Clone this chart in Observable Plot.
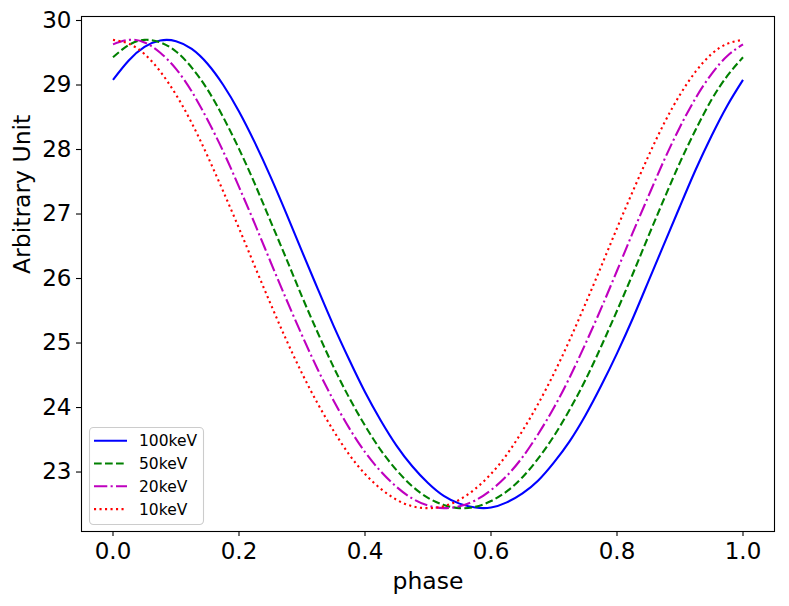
<!DOCTYPE html>
<html>
<head>
<meta charset="utf-8">
<script src="https://cdn.jsdelivr.net/npm/d3@7"></script>
<script src="https://cdn.jsdelivr.net/npm/@observablehq/plot@0.6"></script>
<style>
  html, body { margin: 0; padding: 0; background: #ffffff; }
  #chart { width: 789px; height: 606px; }
</style>
</head>
<body>
<div id="chart"></div>
<script>
// ---- data ----
const phase = [0.000, 0.025, 0.050, 0.075, 0.100, 0.125, 0.150, 0.175, 0.200, 0.225,
               0.250, 0.275, 0.300, 0.325, 0.350, 0.375, 0.400, 0.425, 0.450, 0.475,
               0.500, 0.525, 0.550, 0.575, 0.600, 0.625, 0.650, 0.675, 0.700, 0.725,
               0.750, 0.775, 0.800, 0.825, 0.850, 0.875, 0.900, 0.925, 0.950, 0.975, 1.000];
const seriesNames = ["100keV", "50keV", "20keV", "10keV"];
const kev100 = [29.08, 29.38, 29.59, 29.69, 29.68, 29.56, 29.33, 29.00, 28.59, 28.11,
                27.58, 27.01, 26.42, 25.84, 25.27, 24.74, 24.24, 23.80, 23.41, 23.09,
                22.83, 22.63, 22.51, 22.45, 22.45, 22.53, 22.67, 22.87, 23.15, 23.48,
                23.88, 24.34, 24.84, 25.38, 25.96, 26.54, 27.12, 27.69, 28.21, 28.68, 29.08];
const kev50  = [29.43, 29.62, 29.70, 29.66, 29.52, 29.27, 28.93, 28.50, 28.01, 27.47,
                26.89, 26.31, 25.72, 25.16, 24.63, 24.15, 23.72, 23.34, 23.03, 22.78,
                22.60, 22.49, 22.44, 22.46, 22.55, 22.70, 22.92, 23.21, 23.56, 23.97,
                24.43, 24.95, 25.50, 26.07, 26.66, 27.24, 27.80, 28.31, 28.77, 29.14, 29.43];
const kev20  = [29.63, 29.70, 29.66, 29.50, 29.25, 28.90, 28.46, 27.97, 27.42, 26.85,
                26.26, 25.68, 25.12, 24.59, 24.11, 23.68, 23.31, 23.01, 22.77, 22.59,
                22.48, 22.44, 22.47, 22.56, 22.72, 22.94, 23.23, 23.59, 24.00, 24.47,
                24.99, 25.54, 26.12, 26.71, 27.28, 27.84, 28.35, 28.80, 29.17, 29.45, 29.63];
const kev10  = [29.70, 29.64, 29.48, 29.21, 28.85, 28.41, 27.90, 27.35, 26.78, 26.19,
                25.61, 25.05, 24.53, 24.06, 23.64, 23.27, 22.97, 22.74, 22.57, 22.47,
                22.44, 22.47, 22.57, 22.74, 22.97, 23.27, 23.64, 24.06, 24.53, 25.05,
                25.61, 26.19, 26.78, 27.35, 27.90, 28.41, 28.85, 29.21, 29.48, 29.64, 29.70];
const xTicks = [0.0, 0.2, 0.4, 0.6, 0.8, 1.0];
const yTicks = [23, 24, 25, 26, 27, 28, 29, 30];
const xLabel = "phase";
const yLabel = "Arbitrary Unit";

// ---- styles ----
const colors = ["#0000ff", "#008000", "#bf00bf", "#ff0000"];
const dashes = [null, "7.7,3.3", "13.3,3.3,2.1,3.3", "2.1,3.4"];
const allValues = [kev100, kev50, kev20, kev10];

const rows = seriesNames.map((name, i) =>
  phase.map((p, j) => ({ phase: p, value: allValues[i][j], series: name }))
);

const FONT = "DejaVu Sans, sans-serif";
const TICK_FS = 23;
const LABEL_FS = 23.5;

const lineMarks = rows.map((data, i) => Plot.line(data, {
  x: "phase", y: "value",
  stroke: colors[i],
  strokeWidth: 2.1,
  strokeDasharray: dashes[i] || undefined,
  strokeLinecap: "butt",
  curve: "natural"
}));

const plot = Plot.plot({
  width: 789,
  height: 606,
  marginLeft: 81,
  marginRight: 15,
  marginTop: 16,
  marginBottom: 75,
  style: { fontFamily: FONT, color: "black", background: "white", overflow: "visible" },
  x: { domain: [-0.05, 1.05] },
  y: { domain: [22.078, 30.062] },
  marks: [
    ...lineMarks,
    Plot.frame({ stroke: "black", strokeWidth: 1.1 }),
    Plot.axisX({ ticks: xTicks, tickFormat: d3.format(".1f"), tickSize: 5, tickPadding: 6,
                 fontSize: TICK_FS, label: null, strokeWidth: 1.1 }),
    Plot.axisY({ ticks: yTicks, tickFormat: d3.format("d"), tickSize: 5, tickPadding: 5,
                 fontSize: TICK_FS, label: null, strokeWidth: 1.1 }),
    Plot.text([xLabel], { text: d => d, frameAnchor: "bottom", dy: 49.5, fontSize: LABEL_FS,
                          fill: "black", lineAnchor: "middle" }),
    Plot.text([yLabel], { text: d => d, frameAnchor: "left", dx: -59, rotate: -90, fontSize: LABEL_FS,
                          fill: "black", lineAnchor: "middle" })
  ]
});

document.getElementById("chart").appendChild(plot);

// ---- legend (inside the plot, lower left) ----
const svg = d3.select(plot);
const lg = svg.append("g").attr("transform", "translate(89,427)");
lg.append("rect")
  .attr("x", 0.5).attr("y", 0.5)
  .attr("width", 114).attr("height", 97)
  .attr("rx", 4).attr("ry", 4)
  .attr("fill", "white").attr("fill-opacity", 0.8)
  .attr("stroke", "#cccccc").attr("stroke-width", 1.1);
seriesNames.forEach((name, i) => {
  const y = 13.7 + i * 22.8;
  lg.append("line")
    .attr("x1", 5).attr("x2", 38).attr("y1", y).attr("y2", y)
    .attr("stroke", colors[i]).attr("stroke-width", 2.1)
    .attr("stroke-linecap", "butt")
    .attr("stroke-dasharray", dashes[i]);
  lg.append("text")
    .attr("x", 50).attr("y", y).attr("dy", "0.35em")
    .attr("text-anchor", "start")
    .style("text-anchor", "start")
    .attr("fill", "black")
    .style("font-family", FONT).style("font-size", "15.5px")
    .text(name);
});
</script>
</body>
</html>
